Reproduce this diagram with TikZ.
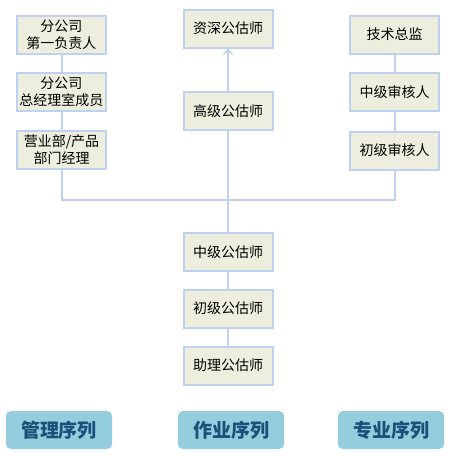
\documentclass[tikz,border=0pt]{standalone}
\usepackage{fontspec}
\setmainfont{Noto Sans CJK SC}
\usetikzlibrary{arrows.meta}
\definecolor{boxfill}{HTML}{EEEEDF}
\definecolor{boxline}{HTML}{BFD1EE}
\definecolor{tagfill}{HTML}{93CDDE}
\definecolor{tagtext}{HTML}{1E4F78}
\tikzset{
  postbox/.style={draw=boxline, fill=boxfill, line width=2pt, minimum width=89pt, minimum height=38pt,
    inner sep=1pt, align=center, font=\fontsize{14}{17}\selectfont},
  seqtag/.style={fill=tagfill, rounded corners=5pt, minimum width=106pt, minimum height=38pt,
    text=tagtext, font=\fontsize{19}{21}\selectfont\bfseries},
  link/.style={draw=boxline, line width=2pt}
}
\begin{document}
\begin{tikzpicture}[x=1pt,y=-1pt]
\useasboundingbox[fill=white] (0,0) rectangle (451,456);
% management track
\node[postbox] (m1) at (61.5,35) {分公司\\第一负责人};
\node[postbox] (m2) at (61.5,91.5) {分公司\\总经理室成员};
\node[postbox] (m3) at (61.5,150) {营业部/产品\\部门经理};
% operation track
\node[postbox] (g1) at (228,28.5) {资深公估师};
\node[postbox] (g2) at (228,111) {高级公估师};
\node[postbox] (g3) at (228,252) {中级公估师};
\node[postbox] (g4) at (228,308.5) {初级公估师};
\node[postbox] (g5) at (228,365.5) {助理公估师};
% professional track
\node[postbox] (r1) at (394.5,34.5) {技术总监};
\node[postbox] (r2) at (394.5,92) {中级审核人};
\node[postbox] (r3) at (394.5,150.5) {初级审核人};
% junction
\coordinate (hub) at (228,200);
\draw[link] (m1) -- (m2);
\draw[link] (m2) -- (m3);
\draw[link] (r1) -- (r2);
\draw[link] (r2) -- (r3);
\draw[link] (m3.south) |- (hub) -| (r3.south);
\draw[link] (g2.south) -- (g3.north);
\draw[link] (g3) -- (g4);
\draw[link] (g4) -- (g5);
\draw[link,-{Straight Barb[length=5pt,width=9pt,line width=1.4pt]}] (g2.north) -- (g1.south);
% track names
\node[seqtag] (t1) at (59,430) {管理序列};
\node[seqtag] (t2) at (231,430) {作业序列};
\node[seqtag] (t3) at (391,430) {专业序列};
\end{tikzpicture}
\end{document}
